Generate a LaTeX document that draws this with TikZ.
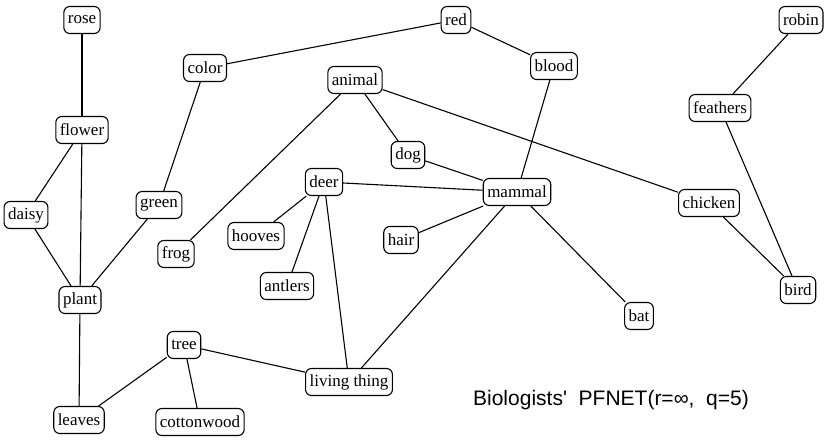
\documentclass[tikz,border=0pt]{standalone}
\usepackage{fontspec}
\setmainfont{Liberation Serif}
\newfontfamily\captionfont{Liberation Sans}
\usepackage{tikz}

\begin{document}
\begin{tikzpicture}
[x=1pt,y=-1pt,
%%%%%%%%%%%%%%%%%%%%%%%%%%%%%%
word/.style={rectangle,rounded corners=6pt,draw=black,line width=1.1pt,
  minimum height=27pt,inner xsep=4pt,inner ysep=2pt,
  font=\rmfamily\fontsize{17}{20}\selectfont},
link/.style={line width=1.1pt},
]%%%%%%%%%%%%%%%%%%%%%%%%%%%%%%
\useasboundingbox (0,0) rectangle (826,440);

\node[word] (rose) at (82,20){rose};
\node[word] (flower) at (82,130){flower};
\node[word] (daisy) at (26,215){daisy};
\node[word] (plant) at (80,300){plant};
\node[word] (leaves) at (79,420){leaves};
\node[word] (color) at (205,68){color};
\node[word] (green) at (159,205){green};
\node[word] (frog) at (176,254){frog};
\node[word] (red) at (456,20){red};
\node[word] (blood) at (554,66){blood};
\node[word] (animal) at (355,80){animal};
\node[word] (dog) at (408,155){dog};
\node[word] (deer) at (324,182){deer};
\node[word] (mammal) at (517,192){mammal};
\node[word] (hooves) at (256,236){hooves};
\node[word] (hair) at (401,240){hair};
\node[word] (antlers) at (287,286){antlers};
\node[word] (chicken) at (709,203){chicken};
\node[word] (robin) at (801,20){robin};
\node[word] (feathers) at (720,108){feathers};
\node[word] (bird) at (798,290){bird};
\node[word] (bat) at (639,316){bat};
\node[word] (tree) at (184,345){tree};
\node[word] (living) at (349,382){living thing};
\node[word] (cottonwood) at (200,422){cottonwood};

\node[font=\captionfont\fontsize{21}{24}\selectfont] (title) at (611,400)
  {Biologists'\ \ PFNET(r=∞,\ \ q=5)};

\draw[link] (rose) -- (flower);
\draw[link] (flower) -- (daisy);
\draw[link] (flower) -- (plant);
\draw[link] (daisy) -- (plant);
\draw[link] (plant) -- (green);
\draw[link] (plant) -- (leaves);
\draw[link] (green) -- (color);
\draw[link] (color) -- (red);
\draw[link] (red) -- (blood);
\draw[link] (blood) -- (mammal);
\draw[link] (animal) -- (frog);
\draw[link] (animal) -- (dog);
\draw[link] (animal) -- (chicken);
\draw[link] (dog) -- (mammal);
\draw[link] (deer) -- (mammal);
\draw[link] (deer) -- (hooves);
\draw[link] (deer) -- (antlers);
\draw[link] (deer) -- (living);
\draw[link] (mammal) -- (hair);
\draw[link] (mammal) -- (living);
\draw[link] (mammal) -- (bat);
\draw[link] (tree) -- (living);
\draw[link] (tree) -- (leaves);
\draw[link] (tree) -- (cottonwood);
\draw[link] (robin) -- (feathers);
\draw[link] (feathers) -- (bird);
\draw[link] (chicken) -- (bird);
\end{tikzpicture}
\end{document}
